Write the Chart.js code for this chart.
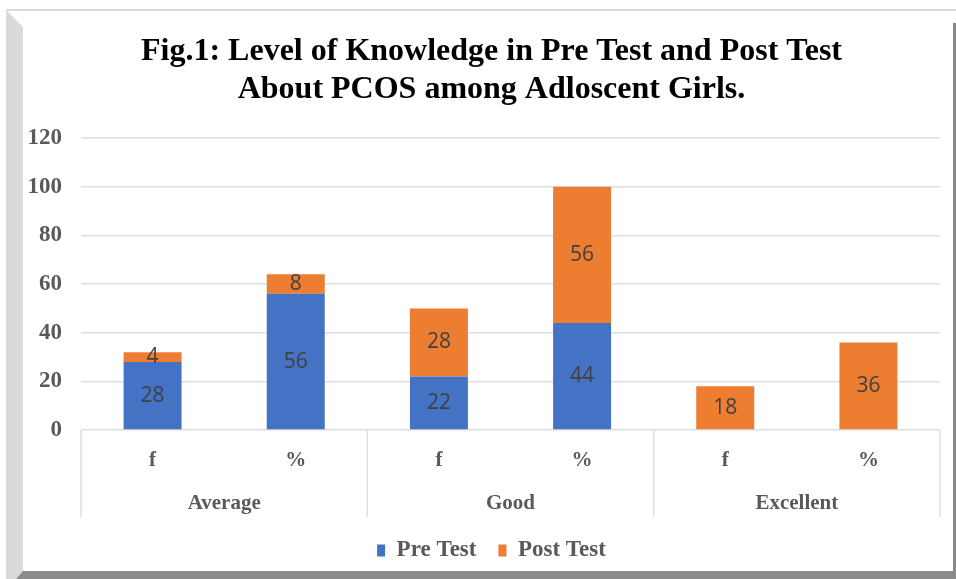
<!DOCTYPE html>
<html>
<head>
<meta charset="utf-8">
<title>Level of Knowledge about PCOS</title>
<script src="https://cdn.jsdelivr.net/npm/chart.js@4.4.1/dist/chart.umd.min.js"></script>
<style>
  html, body { margin: 0; padding: 0; background: #fff; }
  #wrap { width: 956px; height: 579px; }
</style>
</head>
<body>
<div id="wrap"><canvas id="knowledgeChart" width="956" height="579"></canvas></div>
<script>
// ---- data ----
const groups = ['Average', 'Good', 'Excellent'];
const categories = ['f', '%', 'f', '%', 'f', '%'];
const preTest = [28, 56, 22, 44, 0, 0];
const postTest = [4, 8, 28, 56, 18, 36];
const yTicks = [0, 20, 40, 60, 80, 100, 120];

const SERIF = '"Liberation Serif", "Times New Roman", serif';
const GREY_TEXT = '#595959';
const GRID = '#dedede';

// outer picture frame (grey bevel left/top, dark shadow right/bottom)
const framePlugin = {
    id: 'frame',
    beforeDraw(chart) {
        const c = chart.ctx, w = chart.width, h = chart.height;
        c.save();
        c.fillStyle = '#fff';
        c.fillRect(0, 0, w, h);
        c.fillStyle = '#dadada';
        c.fillRect(6, 9, w - 6, 2);
        c.beginPath();
        c.moveTo(6, 10); c.lineTo(23, 27); c.lineTo(23, 571); c.lineTo(16, h); c.lineTo(6, h);
        c.closePath(); c.fill();
        c.fillStyle = '#8a8a8a';
        c.beginPath();
        c.moveTo(23, 571); c.lineTo(w, 571); c.lineTo(w, h); c.lineTo(16, h);
        c.closePath(); c.fill();
        c.fillRect(w - 3, 23, 3, 548);
        c.restore();
    }
};

// y labels are wider than the box we give the axis; widen its clip area after layout
const yLabelRoomPlugin = {
    id: 'yLabelRoom',
    afterLayout(chart) {
        chart.scales.y.left -= 22;
    }
};

// group separators + group names under the f / % labels
const groupAxisPlugin = {
    id: 'groupAxis',
    afterDraw(chart) {
        const x = chart.scales.x, c = chart.ctx;
        const step = (x.right - x.left) / categories.length;
        const per = categories.length / groups.length;
        c.save();
        c.strokeStyle = GRID;
        c.lineWidth = 1.5;
        for (let g = 0; g <= groups.length; g++) {
            const px = x.left + g * per * step;
            c.beginPath();
            c.moveTo(px, x.top);
            c.lineTo(px, x.bottom);
            c.stroke();
        }
        c.fillStyle = GREY_TEXT;
        c.font = 'bold 21px ' + SERIF;
        c.textAlign = 'center';
        c.textBaseline = 'middle';
        groups.forEach((name, g) => {
            c.fillText(name, x.left + (g + 0.5) * per * step, x.bottom - 13);
        });
        c.restore();
    }
};

// value labels in the middle of each segment
const valueLabelPlugin = {
    id: 'valueLabels',
    afterDatasetsDraw(chart) {
        const c = chart.ctx;
        c.save();
        c.fillStyle = '#404040';
        c.font = '21px "Open Sans", "Liberation Sans", sans-serif';
        c.textAlign = 'center';
        c.textBaseline = 'middle';
        chart.data.datasets.forEach((ds, i) => {
            chart.getDatasetMeta(i).data.forEach((bar, j) => {
                const v = ds.data[j];
                if (!v) return;
                const p = bar.getProps(['x', 'y', 'base'], true);
                c.fillText(String(v), p.x, (p.y + p.base) / 2);
            });
        });
        c.restore();
    }
};

document.addEventListener('DOMContentLoaded', function () {
    const ctx = document.getElementById('knowledgeChart').getContext('2d');
    new Chart(ctx, {
        type: 'bar',
        data: {
            labels: categories,
            datasets: [
                { label: 'Pre Test', data: preTest, backgroundColor: '#4472C4', categoryPercentage: 1, barPercentage: 0.405 },
                { label: 'Post Test', data: postTest, backgroundColor: '#ED7D31', categoryPercentage: 1, barPercentage: 0.405 }
            ]
        },
        options: {
            responsive: false,
            animation: false,
            layout: { padding: { left: 43, right: 16, top: 0, bottom: 7 } },
            scales: {
                x: {
                    stacked: true,
                    grid: { display: false, drawTicks: false },
                    border: { display: false },
                    ticks: { color: GREY_TEXT, padding: 18, font: { family: SERIF, size: 21, weight: 'bold' } },
                    afterFit: scale => { scale.height = 87; }
                },
                y: {
                    stacked: true,
                    min: yTicks[0],
                    max: yTicks[yTicks.length - 1],
                    ticks: { stepSize: yTicks[1] - yTicks[0], color: GREY_TEXT, padding: 19, font: { family: SERIF, size: 23, weight: 'bold' } },
                    grid: { color: GRID, lineWidth: 1.5, drawTicks: false },
                    border: { display: false },
                    afterFit: scale => { scale.width = 38; }
                }
            },
            plugins: {
                title: {
                    display: true,
                    text: ['Fig.1: Level of Knowledge in Pre Test and Post Test', 'About PCOS among Adloscent Girls.'],
                    color: '#000',
                    font: { family: SERIF, size: 32, weight: 'bold', lineHeight: 1.19 },
                    padding: { top: 33, bottom: 29 }
                },
                legend: {
                    position: 'bottom',
                    labels: {
                        boxWidth: 8,
                        boxHeight: 12,
                        padding: 22,
                        color: GREY_TEXT,
                        font: { family: SERIF, size: 23, weight: 'bold' }
                    }
                },
                tooltip: { enabled: false }
            }
        },
        plugins: [framePlugin, yLabelRoomPlugin, groupAxisPlugin, valueLabelPlugin]
    });
});
</script>
</body>
</html>
